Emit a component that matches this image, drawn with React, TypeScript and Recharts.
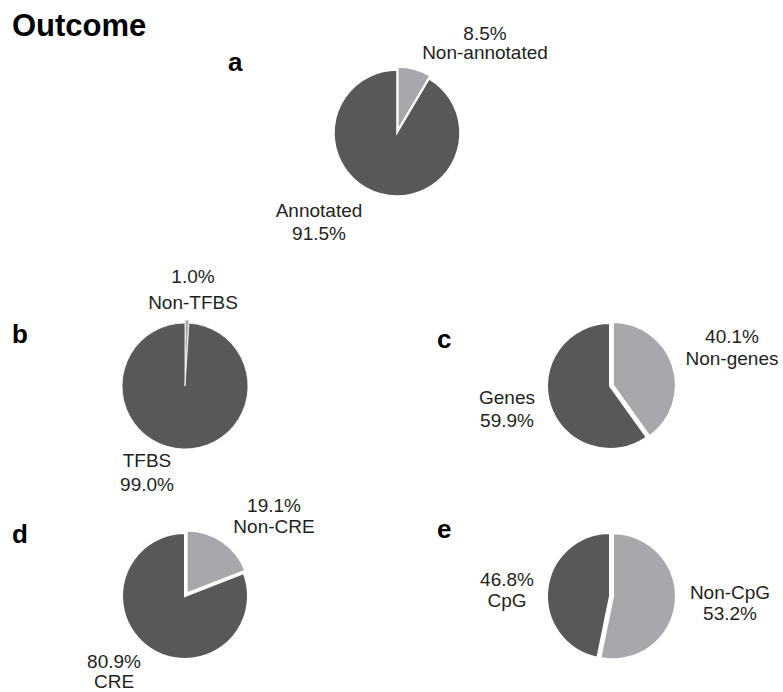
import { PieChart, Pie, Cell } from "recharts";

const panels = ["a", "b", "c", "d", "e"];
const minorNames = ["Non-annotated", "Non-TFBS", "Non-genes", "Non-CRE", "Non-CpG"];
const majorNames = ["Annotated", "TFBS", "Genes", "CRE", "CpG"];
const minorValues = [8.5, 1.0, 40.1, 19.1, 53.2];
const majorValues = [91.5, 99.0, 59.9, 80.9, 46.8];

const W = 783;
const H = 692;
const R = 63;
const DARK = "#58585a";
const LIGHT = "#a6a8ab";
const FONT = "'Liberation Sans', Arial, sans-serif";

// layout of each panel: pie centre, panel letter, label blocks (offsets from centre)
// label: [dx, first baseline dy, line gap, pctFirst]
const layout = [
  { cx: 397, cy: 133, letter: [228, 71], stroke: 1.5, minor: [88, -93, 19, true], major: [-78, 84, 23, false] },
  { cx: 185, cy: 386, letter: [12, 343], stroke: 0.8, minor: [8, -103, 26, true], major: [-38, 81, 24, false] },
  { cx: 610, cy: 386, letter: [437, 348], stroke: 2, minor: [122, -43, 22, true], major: [-103, 18, 23, false] },
  { cx: 185, cy: 596, letter: [12, 543], stroke: 2, minor: [89, -84, 21, true], major: [-71, 72, 20, true] },
  { cx: 610, cy: 596, letter: [437, 538], stroke: 2, minor: [120, 3, 21, false], major: [-103, -10, 21, true] },
];
const EXPLODE = 3;

function pct(v: number) {
  return v.toFixed(1) + "%";
}

function makeLabel(i: number) {
  return (props: any) => {
    const { cx, cy, index, name, value } = props;
    const spec = (index === 0 ? layout[i].minor : layout[i].major) as [number, number, number, boolean];
    const [dx, dy, gap, pctFirst] = spec;
    const lines = pctFirst ? [pct(value), name] : [name, pct(value)];
    return (
      <text x={cx + dx} y={cy + dy} textAnchor="middle" fontSize={19} fontFamily={FONT} fill="#231f20">
        <tspan x={cx + dx} y={cy + dy}>{lines[0]}</tspan>
        <tspan x={cx + dx} y={cy + dy + gap}>{lines[1]}</tspan>
      </text>
    );
  };
}

export default function App() {
  return (
    <div style={{ position: "absolute", left: 0, top: 0, width: W, height: H, background: "#fff" }}>
      <PieChart width={W} height={H} margin={{ top: 0, right: 0, bottom: 0, left: 0 }} style={{ position: "absolute", left: 0, top: 0 }}>
        {panels.map((p, i) => {
          const data = [
            { name: minorNames[i], value: minorValues[i] },
            { name: majorNames[i], value: majorValues[i] },
          ];
          const mid = ((90 - (minorValues[i] / 100) * 180) * Math.PI) / 180;
          const ex = EXPLODE * Math.cos(mid);
          const ey = -EXPLODE * Math.sin(mid);
          return (
            <Pie
              key={p}
              data={data}
              dataKey="value"
              nameKey="name"
              cx={layout[i].cx}
              cy={layout[i].cy}
              outerRadius={R}
              startAngle={90}
              endAngle={-270}
              stroke="#fff"
              strokeWidth={layout[i].stroke}
              label={makeLabel(i)}
              labelLine={false}
              isAnimationActive={false}
            >
              <Cell fill={LIGHT} transform={`translate(${ex.toFixed(2)},${ey.toFixed(2)})`} />
              <Cell fill={DARK} />
            </Pie>
          );
        })}
      </PieChart>
      <svg width={W} height={H} style={{ position: "absolute", left: 0, top: 0, pointerEvents: "none" }}>
        <text x={12} y={36} fontSize={31} fontWeight="bold" fontFamily={FONT} fill="#000">
          Outcome
        </text>
        {panels.map((p, i) => (
          <text key={p} x={layout[i].letter[0]} y={layout[i].letter[1]} fontSize={26} fontWeight="bold" fontFamily={FONT} fill="#000">
            {p}
          </text>
        ))}
      </svg>
    </div>
  );
}
